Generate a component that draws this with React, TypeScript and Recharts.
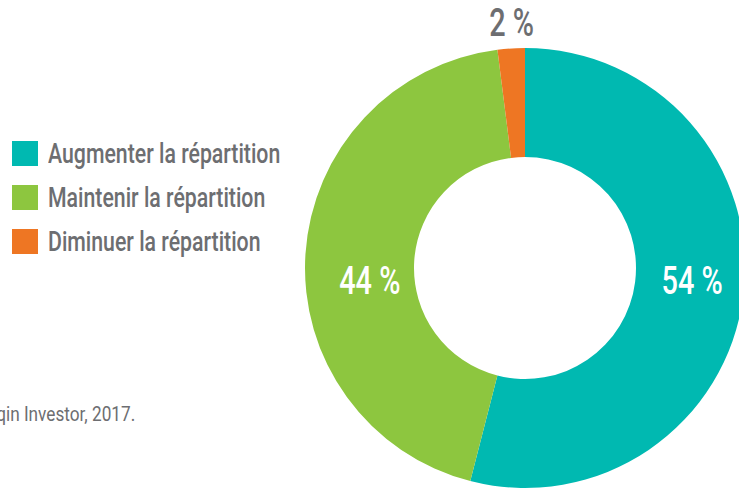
import { Pie, PieChart, Cell } from "recharts";

const categories = ["Augmenter la répartition", "Maintenir la répartition", "Diminuer la répartition"];
const shares = [54, 44, 2];
const COLORS = ["#00b9b1", "#8dc63f", "#ee7623"];
const SOURCE = "Source : Preqin Investor, 2017.";

const FONT = "Roboto, 'Liberation Sans', sans-serif";
const GREY = "#6d6e71";
const SQUEEZE = 0.74;

const data = categories.map((name, i) => ({ name, value: shares[i] }));

const RAD = Math.PI / 180;

function renderLabel(props: any) {
  const { cx, cy, midAngle, innerRadius, outerRadius, value, index } = props;
  const cos = Math.cos(-midAngle * RAD);
  const sin = Math.sin(-midAngle * RAD);
  let x: number;
  let y: number;
  let fill = "#ffffff";
  if (value < 5) {
    const r = outerRadius + 26;
    x = cx + r * cos + 2;
    y = cy + r * sin;
    fill = GREY;
  } else {
    const r = (innerRadius + outerRadius) / 2;
    x = cx + r * cos + (cos > 0 ? 3 : 10);
    y = cy + 12;
  }
  return (
    <text
      key={index}
      transform={`translate(${x},${y}) scale(${SQUEEZE},1)`}
      fill={fill}
      textAnchor="middle"
      dominantBaseline="central"
      fontFamily={FONT}
      fontWeight={500}
      fontSize={39}
    >
      {`${value} %`}
    </text>
  );
}

export default function App() {
  return (
    <div style={{ position: "absolute", left: 0, top: 0, width: 739, height: 490, overflow: "hidden", background: "#fff" }}>
      <PieChart width={739} height={490} margin={{ top: 0, right: 0, bottom: 0, left: 0 }}>
        <Pie
          data={data}
          dataKey="value"
          nameKey="name"
          cx={525}
          cy={268}
          innerRadius={111}
          outerRadius={220}
          startAngle={90}
          endAngle={-270}
          stroke="none"
          label={renderLabel}
          labelLine={false}
          isAnimationActive={false}
        >
          {data.map((d, i) => (
            <Cell key={d.name} fill={COLORS[i]} />
          ))}
        </Pie>
      </PieChart>
      <div style={{ position: "absolute", left: 12, top: 131, fontFamily: FONT }}>
        {categories.map((name, i) => (
          <div key={name} style={{ display: "flex", alignItems: "center", height: 44 }}>
            <div style={{ flex: "0 0 26px", height: 25, background: COLORS[i], marginRight: 10 }} />
            <span
              style={{
                display: "inline-block",
                color: GREY,
                fontSize: 28,
                fontWeight: 500,
                whiteSpace: "nowrap",
                transform: "scaleX(0.76)",
                transformOrigin: "left center",
              }}
            >
              {name}
            </span>
          </div>
        ))}
      </div>
      <div
        style={{
          position: "absolute",
          right: 739 - 135,
          top: 402,
          fontFamily: FONT,
          fontSize: 20,
          color: GREY,
          whiteSpace: "nowrap",
          transform: "scaleX(0.86)",
          transformOrigin: "right center",
        }}
      >
        {SOURCE}
      </div>
    </div>
  );
}
